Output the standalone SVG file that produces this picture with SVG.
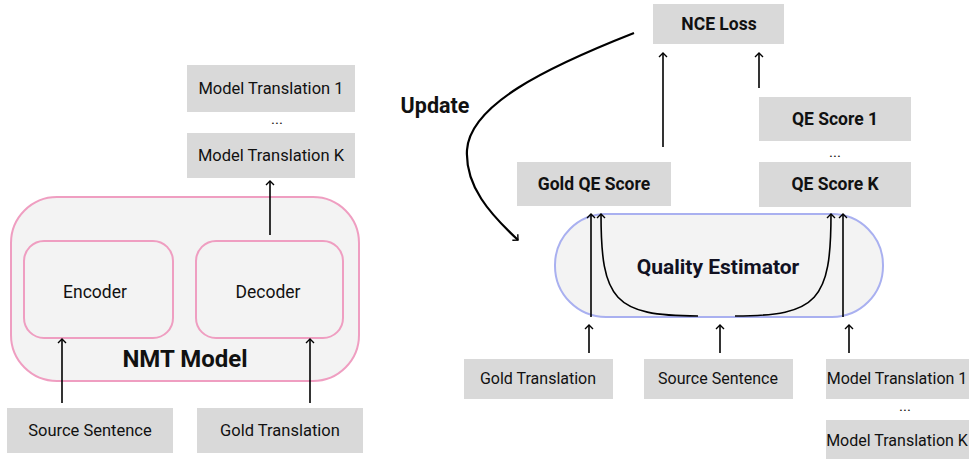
<svg xmlns="http://www.w3.org/2000/svg" width="969" height="459" viewBox="0 0 969 459">
  <defs>
    <marker id="open" viewBox="-6 -6 12 12" markerWidth="12" markerHeight="12" markerUnits="userSpaceOnUse" orient="auto" refX="0" refY="0">
      <path d="M-4,-4 L0,0 L-4,4" fill="none" stroke="#000" stroke-width="1.4"/>
    </marker>
  </defs>
  <style>
    text { font-family: Roboto, "Liberation Sans", sans-serif; fill: #111; text-anchor: middle; }
    .box { fill: #d9d9d9; }
    .lbl { font-size: 16.5px; }
    .lbr { font-size: 16px; }
    .blbl { font-size: 17.5px; font-weight: bold; }
    .nmt { fill: #f3f3f3; stroke: #ef9ec1; stroke-width: 2; }
    .qe { fill: #f3f3f3; stroke: #a9b0f0; stroke-width: 2; }
    .edge { fill: none; stroke: #000; stroke-width: 1.6; marker-end: url(#open); }
    .dots { font-size: 15px; }
  </style>

  <!-- NMT model (left) -->
  <g id="nmt-model">
    <rect class="nmt" x="11" y="197" width="348" height="184" rx="46"/>
    <text x="185" y="367" style="font-size:24px;font-weight:bold">NMT Model</text>
  </g>
  <g id="encoder">
    <rect class="nmt" x="24" y="241" width="149" height="97" rx="20"/>
    <text x="95" y="298" style="font-size:17.5px">Encoder</text>
  </g>
  <g id="decoder">
    <rect class="nmt" x="196" y="241" width="147" height="97" rx="20"/>
    <text x="268" y="298" style="font-size:17.5px">Decoder</text>
  </g>
  <g id="nmt-source">
    <rect class="box" x="7" y="408" width="166" height="45"/>
    <text class="lbl" x="90" y="436">Source Sentence</text>
  </g>
  <g id="nmt-gold">
    <rect class="box" x="197" y="408" width="166" height="45"/>
    <text class="lbl" x="280" y="436">Gold Translation</text>
  </g>
  <g id="nmt-out-1">
    <rect class="box" x="187" y="65" width="168" height="47"/>
    <text class="lbl" x="271" y="94">Model Translation 1</text>
  </g>
  <text class="dots" x="277" y="124">...</text>
  <g id="nmt-out-k">
    <rect class="box" x="187" y="133" width="168" height="45"/>
    <text class="lbl" x="271" y="161">Model Translation K</text>
  </g>

  <!-- Quality estimator (right) -->
  <g id="nce-loss">
    <rect class="box" x="653" y="4" width="131" height="40"/>
    <text class="blbl" x="719" y="30">NCE Loss</text>
  </g>
  <g id="gold-qe-score">
    <rect class="box" x="517" y="162" width="154" height="44"/>
    <text class="blbl" x="594" y="190">Gold QE Score</text>
  </g>
  <g id="qe-score-1">
    <rect class="box" x="759" y="97" width="152" height="44"/>
    <text class="blbl" x="835" y="125">QE Score 1</text>
  </g>
  <text class="dots" x="835" y="157">...</text>
  <g id="qe-score-k">
    <rect class="box" x="759" y="162" width="152" height="45"/>
    <text class="blbl" x="835" y="190">QE Score K</text>
  </g>
  <g id="quality-estimator">
    <rect class="qe" x="555" y="214" width="328" height="103" rx="51"/>
    <text x="718" y="274" style="font-size:21px;font-weight:bold;fill:#111122">Quality Estimator</text>
  </g>
  <g id="qe-gold">
    <rect class="box" x="464" y="359" width="149" height="40"/>
    <text class="lbr" x="538" y="384">Gold Translation</text>
  </g>
  <g id="qe-source">
    <rect class="box" x="644" y="359" width="149" height="40"/>
    <text class="lbr" x="718" y="384">Source Sentence</text>
  </g>
  <g id="qe-model-1">
    <rect class="box" x="826" y="359" width="150" height="40"/>
    <text class="lbr" x="897" y="384">Model Translation 1</text>
  </g>
  <text class="dots" x="905" y="411">...</text>
  <g id="qe-model-k">
    <rect class="box" x="826" y="420" width="150" height="39"/>
    <text class="lbr" x="897" y="446">Model Translation K</text>
  </g>
  <text x="435" y="113" style="font-size:21.5px;font-weight:bold">Update</text>

  <!-- connectors -->
  <g id="connectors">
    <path class="edge" d="M62,403 V339"/>
    <path class="edge" d="M310,403 V339"/>
    <path class="edge" d="M270,235 V181"/>
    <path class="edge" d="M589,353 V325"/>
    <path class="edge" d="M720,353 V325"/>
    <path class="edge" d="M849,353 V325"/>
    <path class="edge" d="M591,317 V214"/>
    <path class="edge" d="M843,317 V214"/>
    <path class="edge" d="M698,316 C614,316 601,300 601,214"/>
    <path class="edge" d="M735,316 C818,316 831,300 831,214"/>
    <path class="edge" d="M663,147 V53"/>
    <path class="edge" d="M759,88 V53"/>
    <path class="edge" style="stroke-width:2.2" d="M634,33 C545,68 470,105 467,150 C465,186 490,214 518,240"/>
  </g>
</svg>
